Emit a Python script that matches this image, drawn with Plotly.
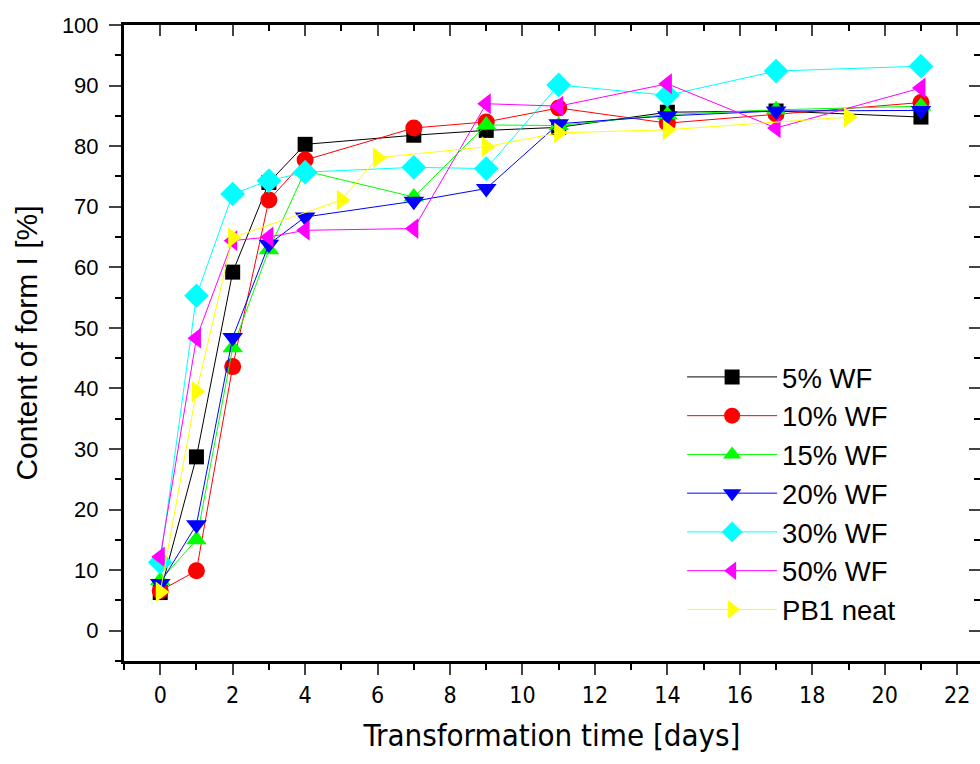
import plotly.graph_objects as go

days_main = [0, 1, 2, 3, 4, 7, 9, 11, 14, 17, 21]
days_neat = [0, 1, 2, 5, 6, 9, 11, 14, 19]

wf5  = [6.3, 28.7, 59.2, 74.0, 80.3, 81.8, 82.6, 83.1, 85.6, 85.8, 84.8]
wf10 = [6.6, 9.9, 43.6, 71.1, 77.7, 83.0, 84.0, 86.3, 83.8, 85.3, 87.2]
wf15 = [8.3, 15.0, 46.7, 62.9, 75.9, 71.6, 83.5, 83.4, 85.2, 86.0, 86.6]
wf20 = [7.8, 17.5, 48.4, 63.8, 68.3, 70.9, 73.0, 83.7, 85.0, 85.8, 85.9]
wf30 = [11.3, 55.3, 72.1, 74.3, 75.7, 76.5, 76.3, 90.1, 88.4, 92.4, 93.2]
wf50 = [12.2, 48.3, 64.4, 65.0, 66.1, 66.4, 87.0, 86.6, 90.3, 83.0, 89.6]
neat = [6.4, 39.5, 64.9, 71.1, 78.1, 79.9, 82.2, 82.7, 84.8]

series = [
    ("5% WF", days_main, wf5, "#000000", "square", 15),
    ("10% WF", days_main, wf10, "#FF0000", "circle", 17),
    ("15% WF", days_main, wf15, "#00FF00", "triangle-up", 18),
    ("20% WF", days_main, wf20, "#0000FF", "triangle-down", 18),
    ("30% WF", days_main, wf30, "#00FFFF", "diamond", 19),
    ("50% WF", days_main, wf50, "#FF00FF", "triangle-left", 18),
    ("PB1 neat", days_neat, neat, "#FFFF00", "triangle-right", 18),
]

fig = go.Figure()
for name, x, y, c, sym, sz in series:
    fig.add_trace(go.Scatter(
        x=x, y=y, name=name, mode="lines+markers",
        line=dict(color=c, width=1),
        marker=dict(color=c, symbol=sym, size=sz, line=dict(width=0)),
    ))

# invisible trace for mirrored top/right axes
fig.add_trace(go.Scatter(x=[0], y=[0], xaxis="x2", yaxis="y2", mode="markers",
                         marker=dict(opacity=0), showlegend=False, hoverinfo="skip"))

narrow = "Liberation Sans Narrow, Arial Narrow, DejaVu Sans Condensed, sans-serif"
reg = "Liberation Sans, Arial, sans-serif"

xr = [-1, 22.63]
yr = [-5, 100]

fig.update_layout(
    width=980, height=764,
    margin=dict(l=124, r=0, t=25, b=103),
    paper_bgcolor="white", plot_bgcolor="white",
    showlegend=True,
    legend=dict(x=0.652, y=0.485, xanchor="left", yanchor="top", itemwidth=90,
                font=dict(family=reg, size=27.5, color="black"),
                bgcolor="rgba(0,0,0,0)", tracegroupgap=0),
    xaxis=dict(range=xr, dtick=2, tick0=0, ticks="outside", ticklen=11, tickwidth=2,
               showline=True, linewidth=3, linecolor="black", showgrid=False, zeroline=False,
               tickfont=dict(family=narrow, size=23, color="black"),
               minor=dict(dtick=1, tick0=0, ticks="outside", ticklen=6, tickwidth=2, tickcolor="black"),
               title=dict(text="Transformation time [days]", font=dict(family=narrow, size=31, color="black"), standoff=18)),
    yaxis=dict(range=yr, dtick=10, tick0=0, ticks="outside", ticklen=12, tickwidth=2,
               showline=True, linewidth=3, linecolor="black", showgrid=False, zeroline=False,
               tickfont=dict(family=reg, size=22, color="black"), ticklabelstandoff=6,
               minor=dict(dtick=5, tick0=0, ticks="outside", ticklen=6, tickwidth=2, tickcolor="black"),
               title=dict(text="Content of form I [%]", font=dict(family=reg, size=30, color="black"), standoff=16)),
    xaxis2=dict(range=xr, overlaying="x", side="top", anchor="y", dtick=2, tick0=0,
                ticks="inside", ticklen=11, tickwidth=2, showticklabels=False,
                showline=True, linewidth=3, linecolor="black", showgrid=False, zeroline=False,
                minor=dict(dtick=1, tick0=0, ticks="inside", ticklen=6, tickwidth=2, tickcolor="black")),
    yaxis2=dict(range=yr, overlaying="y", side="right", anchor="x", dtick=10, tick0=0,
                ticks="inside", ticklen=11, tickwidth=2, showticklabels=False,
                showline=True, linewidth=3, linecolor="black", showgrid=False, zeroline=False,
                minor=dict(dtick=5, tick0=0, ticks="inside", ticklen=6, tickwidth=2, tickcolor="black")),
)

fig.write_html("out.html")
